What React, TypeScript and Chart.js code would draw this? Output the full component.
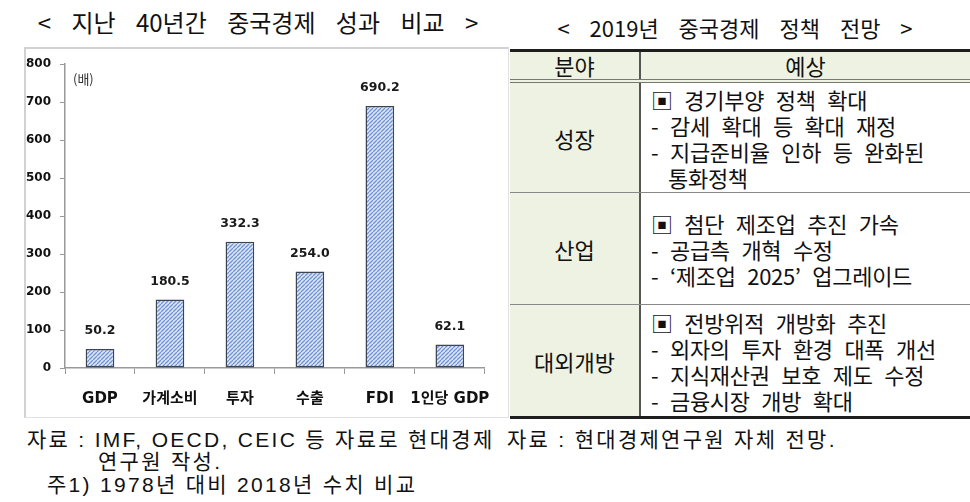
import React, { useEffect, useRef } from "react";
import { Chart, registerables } from "chart.js";

Chart.register(...registerables);

// ---------- data ----------
const categories = ["GDP", "가계소비", "투자", "수출", "FDI", "1인당 GDP"];
const values = [50.2, 180.5, 332.3, 254.0, 690.2, 62.1];
const yMin = 0;
const yMax = 800;
const yStep = 100;
const unitLabel = "(배)";

const leftTitle = "< 지난 40년간 중국경제 성과 비교 >";
const rightTitle = "< 2019년 중국경제 정책 전망 >";

const tableHeader = ["분야", "예상"];
const rowAreas = ["성장", "산업", "대외개방"];
const rowLines1 = ["▣ 경기부양 정책 확대", "- 감세 확대 등 확대 재정", "- 지급준비율 인하 등 완화된", "통화정책"];
const rowLines2 = ["▣ 첨단 제조업 추진 가속", "- 공급측 개혁 수정", "- ‘제조업 2025’ 업그레이드"];
const rowLines3 = ["▣ 전방위적 개방화 추진", "- 외자의 투자 환경 대폭 개선", "- 지식재산권 보호 제도 수정", "- 금융시장 개방 확대"];
const rowLines = [rowLines1, rowLines2, rowLines3];

const leftSource1 = "자료 : IMF, OECD, CEIC 등 자료로 현대경제";
const leftSource2 = "연구원 작성.";
const leftNote = "주1) 1978년 대비 2018년 수치 비교";
const rightSource = "자료 :  현대경제연구원 자체 전망.";

const KR = "'Noto Sans CJK KR', 'Noto Sans', sans-serif";

function BarChart() {
  const ref = useRef<HTMLCanvasElement>(null);
  useEffect(() => {
    const canvas = ref.current!;
    const pc = document.createElement("canvas");
    pc.width = 4;
    pc.height = 4;
    const p = pc.getContext("2d")!;
    p.fillStyle = "#dfe8f8";
    p.fillRect(0, 0, 4, 4);
    p.strokeStyle = "#6f92d6";
    p.lineWidth = 1.3;
    for (const o of [-4, 0, 4]) {
      p.beginPath();
      p.moveTo(o, 4);
      p.lineTo(o + 4, 0);
      p.stroke();
    }
    const pattern = canvas.getContext("2d")!.createPattern(pc, "repeat")!;

    const labelPlugin = {
      id: "valueLabels",
      afterDatasetsDraw(chart: any) {
        const ctx = chart.ctx;
        const meta = chart.getDatasetMeta(0);
        ctx.save();
        ctx.font = "bold 12.5px 'DejaVu Sans'";
        ctx.fillStyle = "#1a1a1a";
        ctx.textAlign = "center";
        ctx.textBaseline = "middle";
        meta.data.forEach((bar: any, i: number) => {
          ctx.fillText(values[i].toFixed(1), bar.x, bar.y - 18);
        });
        ctx.font = "13px 'Noto Sans CJK KR'";
        ctx.textAlign = "left";
        ctx.fillStyle = "#333";
        ctx.fillText(unitLabel, chart.chartArea.left + 8, chart.chartArea.top + 15);
        ctx.restore();
      },
    };

    const chart = new Chart(canvas, {
      type: "bar",
      data: {
        labels: categories,
        datasets: [
          {
            data: values,
            backgroundColor: pattern,
            borderColor: "#3d4552",
            borderWidth: 1.5,
            borderSkipped: false,
            barPercentage: 0.41,
            categoryPercentage: 1,
          },
        ],
      },
      options: {
        animation: false,
        responsive: false,
        devicePixelRatio: 1,
        layout: { padding: { top: 12, right: 20, left: 0, bottom: 0 } },
        plugins: { legend: { display: false }, tooltip: { enabled: false } },
        scales: {
          x: {
            grid: { offset: true, drawOnChartArea: false, drawTicks: true, tickLength: 6, color: "#999" },
            border: { color: "#999", width: 1.5 },
            ticks: {
              padding: 16,
              color: "#111",
              maxRotation: 0,
              autoSkip: false,
              font: { family: "'DejaVu Sans', 'Noto Sans CJK KR'", size: 15, weight: "bold" },
            },
            afterFit: (s: any) => {
              s.height = 51;
            },
          },
          y: {
            min: yMin,
            max: yMax,
            ticks: {
              stepSize: yStep,
              padding: 9,
              color: "#111",
              font: { family: "'DejaVu Sans'", size: 12, weight: "bold" },
            },
            grid: { drawOnChartArea: false, drawTicks: true, tickLength: 5, color: "#999" },
            border: { color: "#999", width: 1.5 },
            afterFit: (s: any) => {
              s.width = 40;
            },
          },
        },
      },
      plugins: [labelPlugin],
    } as any);
    return () => chart.destroy();
  }, []);
  return <canvas ref={ref} width={482} height={371} style={{ display: "block" }} />;
}

const green = "#eef2e2";

function PolicyTable() {
  const rowHeights = [109, 111, 111];
  return (
    <div
      style={{
        position: "absolute",
        left: 510,
        top: 49,
        width: 460,
        borderTop: "3px solid #1e1e1e",
        borderBottom: "3px solid #1e1e1e",
        fontFamily: KR,
        color: "#111",
      }}
    >
      <div style={{ display: "flex", height: 27, background: green, borderBottom: "4px double #777", fontSize: 22 }}>
        <div
          style={{
            width: 129,
            borderRight: "2px solid #555",
            display: "flex",
            alignItems: "center",
            justifyContent: "center",
            lineHeight: "27px",
          }}
        >
          {tableHeader[0]}
        </div>
        <div style={{ flex: 1, display: "flex", alignItems: "center", justifyContent: "center", lineHeight: "27px" }}>
          {tableHeader[1]}
        </div>
      </div>
      {rowAreas.map((area, r) => (
        <div
          key={area}
          style={{
            display: "flex",
            height: rowHeights[r],
            borderTop: r > 0 ? "1px solid #888" : "none",
          }}
        >
          <div
            style={{
              width: 129,
              background: green,
              borderRight: "2px solid #555",
              display: "flex",
              alignItems: "center",
              justifyContent: "center",
              fontSize: 22,
            }}
          >
            {area}
          </div>
          <div
            style={{
              flex: 1,
              display: "flex",
              flexDirection: "column",
              justifyContent: "center",
              paddingLeft: 10,
              fontSize: 22,
              letterSpacing: -0.3,
              wordSpacing: 7,
            }}
          >
            {rowLines[r].map((ln, i) => (
              <div
                key={i}
                style={{
                  lineHeight: "26px",
                  whiteSpace: "nowrap",
                  paddingLeft: /^[▣\-]/.test(ln) ? 0 : 17,
                }}
              >
                {ln}
              </div>
            ))}
          </div>
        </div>
      ))}
    </div>
  );
}

export default function App() {
  const note: React.CSSProperties = {
    position: "absolute",
    fontFamily: "'Liberation Sans', 'Noto Sans CJK KR', sans-serif",
    fontSize: 21,
    lineHeight: "24px",
    letterSpacing: 2.3,
    whiteSpace: "nowrap",
    color: "#111",
  };
  return (
    <div
      style={{
        position: "absolute",
        left: 0,
        top: 0,
        width: 970,
        height: 502,
        background: "#fff",
        overflow: "hidden",
      }}
    >
      <div
        style={{
          position: "absolute",
          left: 0,
          width: 516,
          top: 7,
          textAlign: "center",
          fontFamily: KR,
          fontSize: 24,
          lineHeight: "30px",
          wordSpacing: 15,
          color: "#111",
        }}
      >
        {leftTitle}
      </div>
      <div
        style={{
          position: "absolute",
          left: 500,
          width: 470,
          top: 12,
          textAlign: "center",
          fontFamily: KR,
          fontSize: 22,
          lineHeight: "30px",
          wordSpacing: 15,
          color: "#111",
        }}
      >
        {rightTitle}
      </div>

      <div
        style={{
          position: "absolute",
          left: 24,
          top: 47,
          width: 482,
          height: 368,
          borderTop: "2px solid #d2d2d2",
          borderLeft: "2px solid #d2d2d2",
          borderRight: "1px solid #e2e2e2",
          borderBottom: "1px solid #e2e2e2",
        }}
      />
      <div style={{ position: "absolute", left: 25, top: 48 }}>
        <BarChart />
      </div>

      <PolicyTable />

      <div style={{ ...note, left: 27, top: 428 }}>{leftSource1}</div>
      <div style={{ ...note, left: 98, top: 450 }}>{leftSource2}</div>
      <div style={{ ...note, left: 47, top: 473 }}>{leftNote}</div>
      <div style={{ ...note, left: 507, top: 428 }}>{rightSource}</div>
    </div>
  );
}
